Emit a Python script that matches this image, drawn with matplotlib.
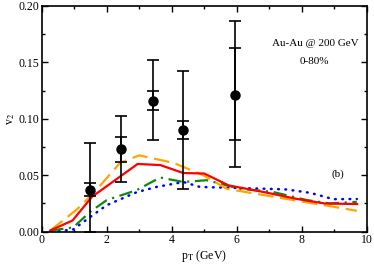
import matplotlib
matplotlib.use('Agg')
import matplotlib.pyplot as plt
import numpy as np
from matplotlib.ticker import MultipleLocator

plt.rcParams['font.family'] = ['Liberation Serif', 'DejaVu Serif']
plt.rcParams['mathtext.fontset'] = 'stix'

# data points with stat and sys errors
pt_data = [1.5, 2.45, 3.43, 4.36, 5.93]
v2_data = [0.037, 0.073, 0.116, 0.090, 0.1215]
stat_lo = [0.032, 0.062, 0.1074, 0.082, 0.081]
stat_hi = [0.0427, 0.084, 0.125, 0.098, 0.163]
sys_lo = [0.0, 0.0436, 0.081, 0.038, 0.0574]
sys_hi = [0.079, 0.1024, 0.1518, 0.1427, 0.187]

# model curves
red_x = [0.26, 0.95, 1.55, 2.95, 3.65, 4.35, 5.0, 5.75, 6.85, 7.85, 8.7, 9.7]
red_y = [0.001, 0.010, 0.031, 0.060, 0.059, 0.052, 0.0515, 0.041, 0.035, 0.029, 0.025, 0.0245]

orange_x = [0.26, 1.08, 1.59, 2.41, 3.0, 4.05, 4.97, 5.69, 6.92, 8.05, 8.87, 9.69]
orange_y = [0.001, 0.0197, 0.034, 0.061, 0.0676, 0.061, 0.050, 0.038, 0.032, 0.0265, 0.0226, 0.0185]

green_x = [0.26, 0.97, 1.49, 2.0, 2.92, 3.64, 4.36, 5.07, 6.1, 7.1, 8.15, 8.87, 9.69]
green_y = [0.001, 0.0038, 0.0176, 0.028, 0.0368, 0.048, 0.044, 0.0456, 0.038, 0.0353, 0.028, 0.025, 0.0265]

blue_x = [0.3, 0.67, 0.97, 1.49, 2.0, 2.92, 3.54, 4.36, 4.87, 5.69, 6.92, 7.54, 8.26, 8.97, 9.69]
blue_y = [0.0, 0.001, 0.002, 0.013, 0.0235, 0.035, 0.0397, 0.044, 0.0396, 0.039, 0.038, 0.0374, 0.0344, 0.0288, 0.029]

fig = plt.figure(figsize=(3.74, 2.64), dpi=100)
ax = fig.add_axes([0.1115, 0.1223, 0.8695, 0.8555])

ax.plot(blue_x, blue_y, color='#0000ff', lw=1.8, ls=(0, (0.3, 2.6)), dash_capstyle='round')
ax.plot(green_x, green_y, color='#118811', lw=1.6, ls=(0, (6, 2.5, 1, 2.5)))
ax.plot(orange_x, orange_y, color='#ffa500', lw=1.6, ls=(0, (7, 3)))
ax.plot(red_x, red_y, color='#ff0000', lw=1.6)

pt = np.array(pt_data)
v2 = np.array(v2_data)
ax.errorbar(pt, v2, yerr=[v2 - np.array(sys_lo), np.array(sys_hi) - v2], fmt='none',
            ecolor='black', elinewidth=1.2, capsize=4, capthick=1.2)
ax.errorbar(pt, v2, yerr=[v2 - np.array(stat_lo), np.array(stat_hi) - v2], fmt='o',
            color='black', ms=6.5, elinewidth=1.2, capsize=4, capthick=1.2)

ax.set_xlim(0, 10)
ax.set_ylim(0, 0.2)
ax.xaxis.set_major_locator(MultipleLocator(2))
ax.xaxis.set_minor_locator(MultipleLocator(1))
ax.yaxis.set_major_locator(MultipleLocator(0.05))
ax.yaxis.set_minor_locator(MultipleLocator(0.025))
ax.set_yticks([0, 0.05, 0.10, 0.15, 0.20])
ax.set_yticklabels(['0.00', '0.05', '0.10', '0.15', '0.20'])
ax.tick_params(which='both', direction='in', top=True, right=True, labelsize=8.5, pad=2)
ax.tick_params(which='major', length=4, width=1)
ax.tick_params(which='minor', length=2, width=1)
for s in ax.spines.values():
    s.set_linewidth(1.2)

ax.set_xlabel(r'p$_\mathrm{T}$ (GeV)', fontsize=8.5, labelpad=1)
ax.set_ylabel(r'v$_2$', fontsize=8.5, labelpad=1)

ax.text(8.4, 0.167, 'Au-Au @ 200 GeV', ha='center', va='center', fontsize=8)
ax.text(8.4, 0.151, '0-80%', ha='center', va='center', fontsize=8)
ax.text(9.1, 0.051, '(b)', ha='center', va='center', fontsize=8)

fig.savefig('out.png', dpi=100)
